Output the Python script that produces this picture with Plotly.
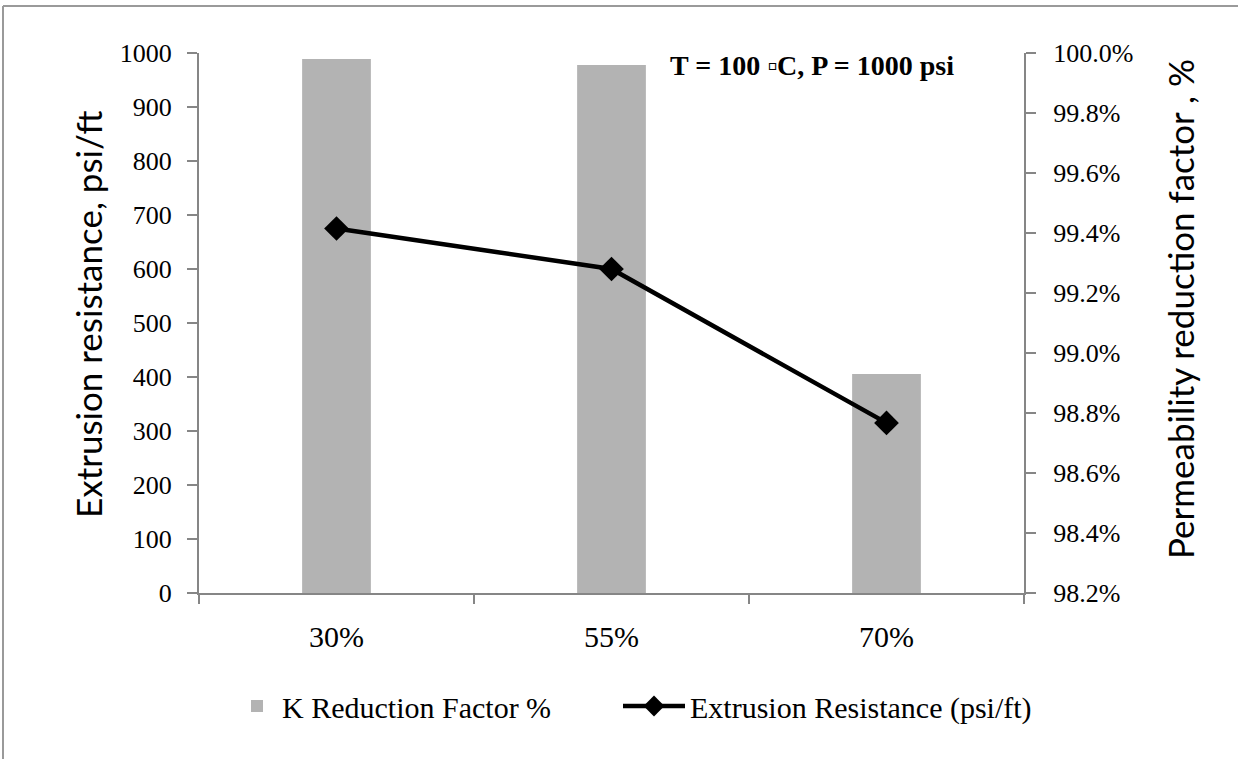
import plotly.graph_objects as go

# Chart data
categories = ["30%", "55%", "70%"]
k_reduction = [99.98, 99.96, 98.93]          # permeability reduction factor, %
extrusion_resistance = [675, 600, 315]       # psi/ft

right_ticks = [98.2, 98.4, 98.6, 98.8, 99.0, 99.2, 99.4, 99.6, 99.8, 100.0]
left_ticks = [0, 100, 200, 300, 400, 500, 600, 700, 800, 900, 1000]

axis_grey = "#868686"
serif = "Liberation Serif, Times New Roman, serif"
sans = "Lato, Liberation Sans, sans-serif"

# plot-area geometry in pixels, used to place the outer frame, titles and legends
L, R, T, B = 199, 214, 53, 166
W, H = 1238, 759
PW, PH = W - L - R, H - T - B


def px_x(x):
    return (x - L) / PW


def px_y(y):
    return (H - B - y) / PH


fig = go.Figure()

fig.add_trace(go.Bar(
    x=categories, y=k_reduction, name="K Reduction Factor %",
    marker=dict(color="#b3b3b3", line=dict(width=0)),
    yaxis="y", width=0.25, legend="legend",
))

fig.add_trace(go.Scatter(
    x=categories, y=extrusion_resistance, name="Extrusion Resistance (psi/ft)",
    mode="lines+markers", yaxis="y2", legend="legend2",
    line=dict(color="black", width=4.5),
    marker=dict(symbol="diamond", size=19, color="black"),
))

legend_font = dict(family=serif, size=30, color="black")

fig.update_layout(
    width=W, height=H,
    margin=dict(l=L, r=R, t=T, b=B, autoexpand=False),
    plot_bgcolor="white", paper_bgcolor="white",
    showlegend=True,
    xaxis=dict(
        type="category", showgrid=False,
        showline=True, linecolor=axis_grey, linewidth=2,
        ticks="outside", ticklen=9, tickcolor=axis_grey, tickwidth=2,
        tickson="boundaries", ticklabelstandoff=16,
        tickfont=dict(family=serif, size=30, color="black"),
        range=[-0.5, 2.5],
    ),
    yaxis=dict(
        side="right", range=[98.2, 100.0],
        tickvals=right_ticks, ticktext=[f"{v:.1f}%" for v in right_ticks],
        showgrid=False, zeroline=False,
        showline=True, linecolor=axis_grey, linewidth=2,
        ticks="outside", ticklen=10, tickcolor=axis_grey, tickwidth=2,
        ticklabelstandoff=12,
        tickfont=dict(family=serif, size=26, color="black"),
    ),
    yaxis2=dict(
        side="left", overlaying="y", range=[0, 1000],
        tickvals=left_ticks,
        showgrid=False, zeroline=False,
        showline=True, linecolor=axis_grey, linewidth=2,
        ticks="outside", ticklen=10, tickcolor=axis_grey, tickwidth=2,
        ticklabelstandoff=10,
        tickfont=dict(family=serif, size=26, color="black"),
    ),
    legend=dict(
        orientation="h", x=px_x(232), y=px_y(706), xanchor="left", yanchor="middle",
        font=legend_font, itemwidth=40, bgcolor="rgba(0,0,0,0)",
    ),
    legend2=dict(
        orientation="h", x=px_x(618), y=px_y(706), xanchor="left", yanchor="middle",
        font=legend_font, itemwidth=62, bgcolor="rgba(0,0,0,0)",
    ),
    annotations=[
        dict(text="<b>T = 100 \u25abC, P = 1000 psi</b>",
             xref="paper", yref="paper", x=px_x(668), y=px_y(65),
             xanchor="left", yanchor="middle", showarrow=False,
             font=dict(family=serif, size=28, color="black")),
        dict(text="Extrusion resistance, psi/ft",
             xref="paper", yref="paper", x=px_x(88), y=px_y(315),
             xanchor="center", yanchor="middle", textangle=-90, showarrow=False,
             font=dict(family=sans, size=35, color="black")),
        dict(text="Permeability reduction factor , %",
             xref="paper", yref="paper", x=px_x(1180), y=px_y(309),
             xanchor="center", yanchor="middle", textangle=-90, showarrow=False,
             font=dict(family=sans, size=35, color="black")),
    ],
    shapes=[
        dict(type="line", xref="paper", yref="paper",
             x0=px_x(3), x1=px_x(1240), y0=px_y(6), y1=px_y(6),
             line=dict(color="#9a9a9a", width=2)),
        dict(type="line", xref="paper", yref="paper",
             x0=px_x(3), x1=px_x(3), y0=px_y(6), y1=px_y(762),
             line=dict(color="#9a9a9a", width=2)),
    ],
)

fig.write_html("out.html")
